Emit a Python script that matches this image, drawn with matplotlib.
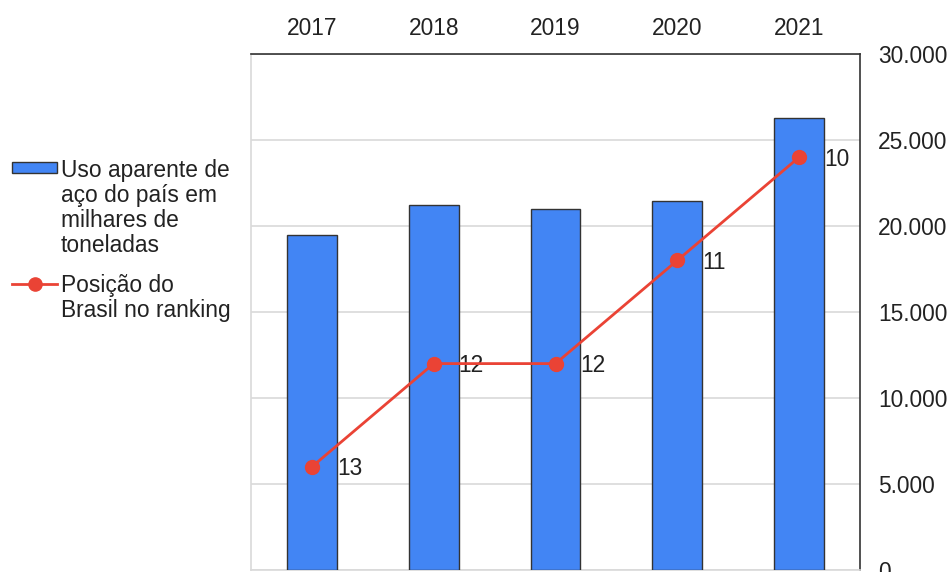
import matplotlib
matplotlib.use("Agg")
import matplotlib.pyplot as plt
from matplotlib.patches import Rectangle
from matplotlib.lines import Line2D
from matplotlib.ticker import FuncFormatter

plt.rcParams['font.family'] = ['Liberation Sans', 'DejaVu Sans']

# Data
years = ['2017', '2018', '2019', '2020', '2021']
consumo = [19500, 21200, 21000, 21450, 26300]   # milhares de toneladas
ranking = [13, 12, 12, 11, 10]
legend_labels = ['Uso aparente de\naço do país em\nmilhares de\ntoneladas',
                 'Posição do\nBrasil no ranking']

BLUE = '#4285f4'
RED = '#ea4335'
TXT = '#222222'
GRID = '#d9d9d9'
FS = 16.4

W, H = 952, 572
fig = plt.figure(figsize=(W / 100, H / 100), dpi=100)
ax = fig.add_axes([251 / W, 1 - 570 / H, (860 - 251) / W, (570 - 54) / H])
# Ranking lives on a hidden, inverted secondary axis
ax2 = ax.twinx()

x = list(range(len(years)))
ax.bar(x, consumo, width=0.41, color=BLUE, edgecolor='#333333', linewidth=1.0, zorder=3)
ax.set_xlim(-0.5, len(years) - 0.5)
ax.set_ylim(0, 30000)
ax.set_yticks(range(0, 30001, 5000))
ax.yaxis.set_major_formatter(FuncFormatter(lambda v, p: f'{int(v):,}'.replace(',', '.')))
ax.yaxis.tick_right()
ax.grid(axis='y', color=GRID, linewidth=1.2, zorder=0)
ax.tick_params(axis='y', length=0, pad=13, labelsize=FS, labelcolor=TXT)
for lab in ax.get_yticklabels():
    lab.set_horizontalalignment('left')

ax.set_xticks(x)
ax.set_xticklabels(years)
ax.xaxis.tick_top()
ax.tick_params(axis='x', length=0, pad=10.3, labelsize=FS, labelcolor=TXT)

for side in ['top', 'right']:
    ax.spines[side].set_color('#333333')
    ax.spines[side].set_linewidth(1.2)
for side in ['left', 'bottom']:
    ax.spines[side].set_color(GRID)
    ax.spines[side].set_linewidth(1.2)

ax2.set_ylim(14, 9)
ax2.plot(x, ranking, color=RED, linewidth=2, marker='o', markersize=10, zorder=4)
for xi, r in zip(x, ranking):
    ax2.annotate(str(r), (xi, r), xytext=(18, -1.5), textcoords='offset points',
                 ha='left', va='center', fontsize=FS, color=TXT)
ax2.set_yticks([])
for s in ax2.spines.values():
    s.set_visible(False)

# Legend drawn at the left of the figure
def fy(py):
    return 1 - py / H

fig.add_artist(Rectangle((12 / W, fy(173)), 45 / W, 11 / H, transform=fig.transFigure,
                         facecolor=BLUE, edgecolor='#333333', linewidth=1.0))
fig.add_artist(Line2D([12 / W, 57 / W], [fy(284), fy(284)], transform=fig.transFigure,
                      color=RED, linewidth=2))
fig.add_artist(Line2D([34.5 / W], [fy(284)], transform=fig.transFigure,
                      color=RED, marker='o', markersize=9.5))

step = 25
for label, base in zip(legend_labels, [177, 292]):
    for i, line in enumerate(label.split('\n')):
        fig.text(61 / W, fy(base + i * step), line, fontsize=FS, color=TXT,
                 ha='left', va='baseline')

fig.savefig('out.png', dpi=100)
